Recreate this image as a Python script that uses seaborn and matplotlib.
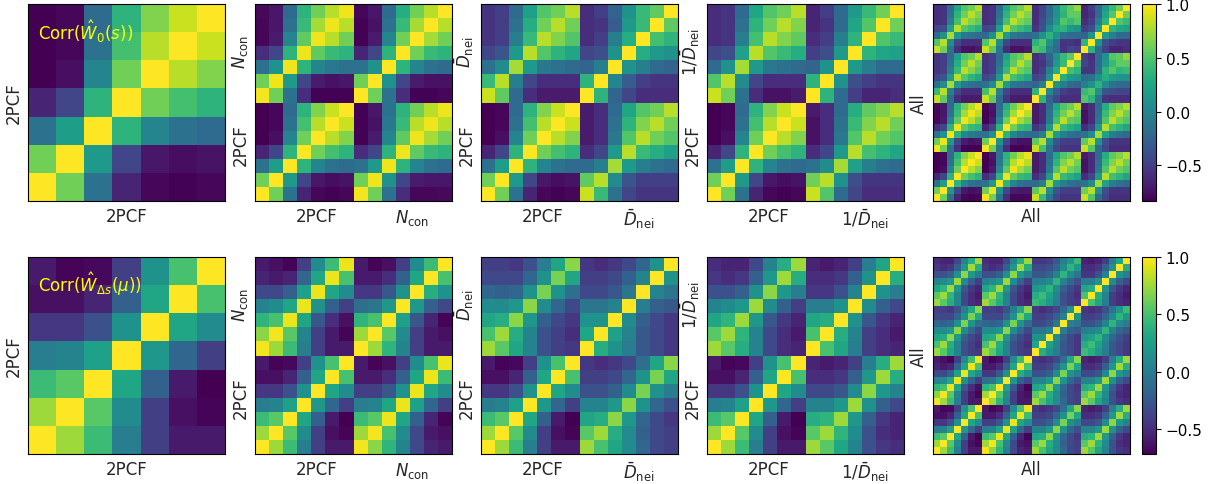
import numpy as np
import matplotlib
matplotlib.use("Agg")
import matplotlib.pyplot as plt
import seaborn as sns

sns.set_theme(style="white")
plt.rcParams["font.family"] = ["DejaVu Sans"]
plt.rcParams["mathtext.fontset"] = "dejavusans"

# Correlation blocks between the 7 bins of each statistic.
# Row i / column j are bin indices; row 0 is drawn at the bottom.

# ---------------- multipole W_0(s) ----------------
w0_2pcf = [
    [1.00, 0.60, -0.15, -0.65, -0.80, -0.82, -0.80],
    [0.60, 1.00, 0.15, -0.45, -0.72, -0.77, -0.74],
    [-0.15, 0.18, 1.00, 0.35, 0.00, -0.15, -0.20],
    [-0.65, -0.45, 0.35, 1.00, 0.60, 0.45, 0.35],
    [-0.83, -0.76, 0.00, 0.60, 1.00, 0.80, 0.65],
    [-0.83, -0.80, -0.15, 0.45, 0.80, 1.00, 0.85],
    [-0.83, -0.80, -0.20, 0.35, 0.65, 0.85, 1.00],
]
w0_ncon = [
    [1.00, 0.60, -0.15, -0.60, -0.82, -0.82, -0.80],
    [0.60, 1.00, 0.10, -0.45, -0.70, -0.75, -0.75],
    [-0.15, 0.10, 1.00, 0.35, 0.00, -0.15, -0.20],
    [-0.65, -0.45, 0.35, 1.00, 0.60, 0.40, 0.35],
    [-0.82, -0.70, 0.00, 0.60, 1.00, 0.75, 0.60],
    [-0.82, -0.75, -0.15, 0.40, 0.75, 1.00, 0.80],
    [-0.80, -0.72, -0.20, 0.30, 0.60, 0.80, 1.00],
]
w0_dnei = [
    [1.00, 0.35, -0.25, -0.45, -0.60, -0.60, -0.60],
    [0.35, 1.00, 0.00, -0.30, -0.50, -0.55, -0.55],
    [-0.25, -0.05, 1.00, 0.10, -0.05, -0.20, -0.25],
    [-0.45, -0.40, 0.10, 1.00, 0.30, 0.15, 0.10],
    [-0.60, -0.50, -0.05, 0.30, 1.00, 0.45, 0.35],
    [-0.60, -0.55, -0.30, 0.15, 0.40, 1.00, 0.55],
    [-0.60, -0.50, -0.25, 0.10, 0.40, 0.55, 1.00],
]
w0_inv_dnei = [
    [1.00, 0.35, -0.20, -0.50, -0.65, -0.65, -0.60],
    [0.35, 1.00, 0.10, -0.40, -0.50, -0.55, -0.55],
    [-0.25, 0.10, 1.00, 0.15, -0.05, -0.20, -0.20],
    [-0.50, -0.40, 0.15, 1.00, 0.35, 0.25, 0.20],
    [-0.60, -0.50, -0.05, 0.35, 1.00, 0.50, 0.40],
    [-0.65, -0.55, -0.20, 0.25, 0.50, 1.00, 0.60],
    [-0.65, -0.50, -0.20, 0.15, 0.40, 0.60, 1.00],
]
w0_2pcf_ncon = [
    [0.97, 0.60, -0.15, -0.60, -0.80, -0.80, -0.78],
    [0.60, 0.95, 0.10, -0.45, -0.70, -0.72, -0.72],
    [-0.15, 0.15, 0.95, 0.35, 0.00, -0.15, -0.20],
    [-0.60, -0.45, 0.35, 0.95, 0.55, 0.40, 0.35],
    [-0.82, -0.70, 0.00, 0.55, 0.95, 0.75, 0.60],
    [-0.82, -0.75, -0.10, 0.40, 0.80, 0.95, 0.80],
    [-0.82, -0.72, -0.15, 0.35, 0.60, 0.80, 0.95],
]
w0_2pcf_dnei = [
    [0.85, 0.40, -0.15, -0.45, -0.55, -0.55, -0.55],
    [0.55, 0.80, 0.05, -0.35, -0.50, -0.50, -0.50],
    [-0.20, -0.05, 0.75, 0.15, -0.05, -0.15, -0.20],
    [-0.60, -0.45, 0.15, 0.80, 0.40, 0.30, 0.20],
    [-0.70, -0.60, -0.10, 0.50, 0.80, 0.60, 0.50],
    [-0.70, -0.60, -0.15, 0.35, 0.65, 0.80, 0.60],
    [-0.70, -0.60, -0.20, 0.25, 0.50, 0.60, 0.80],
]
w0_2pcf_inv_dnei = [
    [0.85, 0.50, -0.20, -0.45, -0.60, -0.60, -0.60],
    [0.60, 0.80, 0.10, -0.40, -0.55, -0.55, -0.55],
    [-0.15, 0.05, 0.75, 0.20, -0.05, -0.15, -0.20],
    [-0.60, -0.45, 0.15, 0.80, 0.45, 0.35, 0.25],
    [-0.75, -0.60, -0.10, 0.50, 0.80, 0.60, 0.50],
    [-0.75, -0.60, -0.15, 0.40, 0.65, 0.80, 0.60],
    [-0.70, -0.60, -0.20, 0.30, 0.55, 0.65, 0.80],
]
w0_ncon_dnei = [
    [0.85, 0.45, -0.15, -0.45, -0.55, -0.55, -0.55],
    [0.55, 0.80, 0.05, -0.35, -0.50, -0.50, -0.50],
    [-0.20, -0.05, 0.75, 0.15, -0.05, -0.15, -0.20],
    [-0.55, -0.45, 0.15, 0.80, 0.40, 0.30, 0.20],
    [-0.70, -0.60, -0.10, 0.45, 0.80, 0.55, 0.50],
    [-0.70, -0.60, -0.15, 0.35, 0.60, 0.80, 0.60],
    [-0.70, -0.60, -0.20, 0.25, 0.50, 0.60, 0.80],
]
w0_ncon_inv_dnei = [
    [0.85, 0.50, -0.20, -0.45, -0.60, -0.60, -0.60],
    [0.55, 0.80, 0.10, -0.40, -0.55, -0.55, -0.55],
    [-0.15, 0.05, 0.75, 0.20, -0.05, -0.15, -0.20],
    [-0.60, -0.45, 0.15, 0.80, 0.45, 0.35, 0.25],
    [-0.75, -0.60, -0.10, 0.50, 0.80, 0.60, 0.50],
    [-0.75, -0.60, -0.15, 0.40, 0.65, 0.80, 0.60],
    [-0.70, -0.60, -0.20, 0.30, 0.55, 0.65, 0.80],
]
w0_dnei_inv_dnei = [
    [0.50, 0.35, -0.15, -0.55, -0.60, -0.60, -0.60],
    [0.40, 0.50, 0.10, -0.35, -0.40, -0.45, -0.45],
    [-0.05, 0.10, 0.35, 0.05, -0.15, -0.20, -0.20],
    [-0.20, -0.15, 0.10, 0.30, 0.15, 0.10, 0.10],
    [-0.55, -0.55, -0.15, 0.35, 0.50, 0.35, 0.40],
    [-0.45, -0.55, -0.20, 0.15, 0.40, 0.55, 0.55],
    [-0.50, -0.60, -0.20, 0.10, 0.50, 0.55, 0.70],
]

# ---------------- wedge W_Δs(μ) ----------------
wmu_2pcf = [
    [1.00, 0.75, 0.45, 0.00, -0.40, -0.60, -0.60],
    [0.75, 1.00, 0.55, 0.10, -0.40, -0.65, -0.70],
    [0.45, 0.55, 1.00, 0.30, -0.20, -0.60, -0.72],
    [0.00, 0.05, 0.25, 1.00, 0.20, -0.15, -0.40],
    [-0.45, -0.45, -0.30, 0.15, 1.00, 0.30, 0.10],
    [-0.65, -0.65, -0.55, -0.20, 0.30, 1.00, 0.50],
    [-0.60, -0.70, -0.68, -0.40, 0.15, 0.50, 1.00],
]
wmu_ncon = [
    [1.00, 0.75, 0.40, 0.05, -0.40, -0.60, -0.60],
    [0.75, 1.00, 0.55, 0.10, -0.40, -0.60, -0.65],
    [0.40, 0.50, 1.00, 0.25, -0.25, -0.55, -0.70],
    [-0.10, -0.05, 0.20, 1.00, 0.20, -0.20, -0.35],
    [-0.45, -0.45, -0.25, 0.15, 1.00, 0.35, 0.15],
    [-0.60, -0.60, -0.50, -0.20, 0.30, 1.00, 0.50],
    [-0.60, -0.70, -0.65, -0.40, 0.10, 0.45, 1.00],
]
wmu_dnei = [
    [1.00, 0.35, 0.15, 0.00, -0.25, -0.35, -0.45],
    [0.30, 1.00, 0.25, 0.05, -0.25, -0.35, -0.45],
    [0.15, 0.15, 1.00, 0.10, -0.20, -0.35, -0.45],
    [-0.05, -0.05, 0.05, 1.00, 0.00, -0.20, -0.25],
    [-0.35, -0.35, -0.25, -0.05, 1.00, 0.05, -0.05],
    [-0.40, -0.40, -0.35, -0.20, 0.05, 1.00, 0.15],
    [-0.45, -0.50, -0.45, -0.35, -0.15, 0.15, 1.00],
]
wmu_inv_dnei = [
    [1.00, 0.50, 0.30, 0.00, -0.40, -0.50, -0.55],
    [0.50, 1.00, 0.35, 0.05, -0.40, -0.50, -0.60],
    [0.30, 0.35, 1.00, 0.15, -0.25, -0.45, -0.55],
    [0.00, 0.00, 0.15, 1.00, 0.10, -0.20, -0.35],
    [-0.45, -0.45, -0.30, 0.05, 1.00, 0.15, 0.00],
    [-0.50, -0.50, -0.45, -0.20, 0.15, 1.00, 0.35],
    [-0.55, -0.60, -0.55, -0.40, 0.00, 0.30, 1.00],
]
wmu_2pcf_ncon = [
    [0.97, 0.70, 0.40, 0.05, -0.35, -0.55, -0.60],
    [0.75, 0.97, 0.50, 0.10, -0.35, -0.60, -0.65],
    [0.45, 0.55, 0.95, 0.30, -0.20, -0.55, -0.70],
    [0.00, 0.05, 0.30, 0.95, 0.25, -0.15, -0.40],
    [-0.40, -0.40, -0.25, 0.15, 0.95, 0.30, 0.10],
    [-0.60, -0.60, -0.50, -0.20, 0.30, 0.95, 0.45],
    [-0.60, -0.70, -0.65, -0.40, 0.10, 0.50, 0.95],
]
wmu_2pcf_dnei = [
    [0.75, 0.50, 0.30, 0.10, -0.15, -0.35, -0.40],
    [0.55, 0.75, 0.35, 0.10, -0.20, -0.35, -0.40],
    [0.30, 0.35, 0.70, 0.20, -0.15, -0.35, -0.45],
    [0.05, 0.05, 0.20, 0.70, 0.15, -0.15, -0.30],
    [-0.30, -0.30, -0.20, 0.10, 0.65, 0.15, 0.00],
    [-0.40, -0.40, -0.35, -0.15, 0.15, 0.65, 0.30],
    [-0.45, -0.50, -0.45, -0.35, -0.10, 0.30, 0.70],
]
wmu_2pcf_inv_dnei = [
    [0.75, 0.55, 0.30, 0.05, -0.30, -0.45, -0.50],
    [0.55, 0.75, 0.40, 0.10, -0.30, -0.50, -0.55],
    [0.35, 0.40, 0.75, 0.20, -0.20, -0.45, -0.55],
    [0.05, 0.05, 0.20, 0.75, 0.15, -0.20, -0.35],
    [-0.35, -0.35, -0.25, 0.10, 0.70, 0.20, 0.05],
    [-0.50, -0.50, -0.45, -0.20, 0.20, 0.75, 0.35],
    [-0.55, -0.60, -0.55, -0.40, 0.00, 0.35, 0.75],
]
wmu_ncon_dnei = [
    [0.75, 0.50, 0.30, 0.10, -0.15, -0.35, -0.40],
    [0.55, 0.75, 0.35, 0.10, -0.20, -0.35, -0.40],
    [0.30, 0.35, 0.70, 0.20, -0.15, -0.35, -0.45],
    [0.05, 0.05, 0.20, 0.70, 0.15, -0.15, -0.30],
    [-0.30, -0.30, -0.20, 0.10, 0.65, 0.15, 0.00],
    [-0.40, -0.40, -0.35, -0.15, 0.15, 0.65, 0.30],
    [-0.45, -0.50, -0.45, -0.35, -0.10, 0.30, 0.70],
]
wmu_ncon_inv_dnei = [
    [0.75, 0.55, 0.30, 0.05, -0.30, -0.45, -0.50],
    [0.55, 0.75, 0.40, 0.10, -0.30, -0.50, -0.55],
    [0.35, 0.40, 0.75, 0.20, -0.20, -0.45, -0.55],
    [0.05, 0.05, 0.20, 0.75, 0.15, -0.20, -0.35],
    [-0.35, -0.35, -0.25, 0.10, 0.70, 0.20, 0.05],
    [-0.50, -0.50, -0.45, -0.20, 0.20, 0.75, 0.35],
    [-0.55, -0.60, -0.55, -0.40, 0.00, 0.35, 0.75],
]
wmu_dnei_inv_dnei = [
    [0.45, 0.35, 0.20, 0.00, -0.25, -0.35, -0.45],
    [0.35, 0.45, 0.25, 0.05, -0.25, -0.35, -0.45],
    [0.20, 0.25, 0.40, 0.10, -0.15, -0.30, -0.40],
    [0.00, 0.05, 0.10, 0.40, 0.05, -0.15, -0.25],
    [-0.30, -0.30, -0.20, 0.05, 0.40, 0.10, 0.00],
    [-0.40, -0.40, -0.35, -0.15, 0.10, 0.40, 0.20],
    [-0.45, -0.50, -0.45, -0.30, -0.05, 0.20, 0.45],
]

stat_labels = ["2PCF", r"$N_{\rm con}$", r"$\bar{D}_{\rm nei}$", r"$1/\bar{D}_{\rm nei}$"]

rows = [
    {
        "title": r"Corr($\hat{W}_0(s)$)",
        "self": [w0_2pcf, w0_ncon, w0_dnei, w0_inv_dnei],
        "cross": {
            (0, 1): w0_2pcf_ncon, (0, 2): w0_2pcf_dnei, (0, 3): w0_2pcf_inv_dnei,
            (1, 2): w0_ncon_dnei, (1, 3): w0_ncon_inv_dnei, (2, 3): w0_dnei_inv_dnei,
        },
    },
    {
        "title": r"Corr($\hat{W}_{\Delta s}(\mu)$)",
        "self": [wmu_2pcf, wmu_ncon, wmu_dnei, wmu_inv_dnei],
        "cross": {
            (0, 1): wmu_2pcf_ncon, (0, 2): wmu_2pcf_dnei, (0, 3): wmu_2pcf_inv_dnei,
            (1, 2): wmu_ncon_dnei, (1, 3): wmu_ncon_inv_dnei, (2, 3): wmu_dnei_inv_dnei,
        },
    },
]


def joint_matrix(selfs, cross, stats):
    """Stack the per-statistic blocks into one correlation matrix."""
    blocks = []
    for a in stats:
        line = []
        for b in stats:
            if a == b:
                line.append(np.asarray(selfs[a]))
            elif a < b:
                line.append(np.asarray(cross[(a, b)]))
            else:
                line.append(np.asarray(cross[(b, a)]).T)
        blocks.append(line)
    return np.block(blocks)


fig = plt.figure(figsize=(12.19, 4.85), dpi=100)
W, H = 1219, 485
lefts_px = [28, 255, 481, 707, 933]
tops_px = [5, 258]
size_px = 197
cbar_left_px, cbar_w_px = 1142, 14

label_fs = 12

for r, row in enumerate(rows):
    full = joint_matrix(row["self"], row["cross"], [0, 1, 2, 3])
    vmin, vmax = full.min(), 1.0
    bottom = 1 - (tops_px[r] + size_px) / H
    cax = fig.add_axes([cbar_left_px / W, bottom, cbar_w_px / W, size_px / H])
    for k in range(5):
        ax = fig.add_axes([lefts_px[k] / W, bottom, size_px / W, size_px / H])
        if k == 0:
            mat = np.asarray(row["self"][0])
        elif k < 4:
            mat = joint_matrix(row["self"], row["cross"], [0, k])
        else:
            mat = full
        sns.heatmap(mat, ax=ax, cmap="viridis", vmin=vmin, vmax=vmax,
                    cbar=(k == 4), cbar_ax=cax if k == 4 else None,
                    xticklabels=False, yticklabels=False, square=True)
        ax.invert_yaxis()
        for sp in ax.spines.values():
            sp.set_visible(True)
            sp.set_color("black")
            sp.set_linewidth(0.8)
        ax.tick_params(left=False, bottom=False)

        if k == 0:
            ax.set_xlabel("2PCF", fontsize=label_fs, labelpad=4)
            ax.set_ylabel("2PCF", fontsize=label_fs, labelpad=4)
            ax.text(0.05, 0.865, row["title"], transform=ax.transAxes,
                    color="yellow", fontsize=12, ha="left", va="center")
        elif k < 4:
            ax.text(0.315, -0.03, "2PCF", transform=ax.transAxes,
                    fontsize=label_fs, ha="center", va="top")
            ax.text(0.80, -0.03, stat_labels[k], transform=ax.transAxes,
                    fontsize=label_fs, ha="center", va="top")
            ax.text(-0.025, 0.29, "2PCF", transform=ax.transAxes, rotation=90,
                    fontsize=label_fs, ha="right", va="center")
            ax.text(-0.025, 0.76, stat_labels[k], transform=ax.transAxes, rotation=90,
                    fontsize=label_fs, ha="right", va="center")
        else:
            ax.set_xlabel("All", fontsize=label_fs, labelpad=4)
            ax.set_ylabel("All", fontsize=label_fs, labelpad=4)
            cbar = ax.collections[0].colorbar
            cbar.set_ticks([-0.5, 0.0, 0.5, 1.0])
            cbar.outline.set_visible(True)
            cbar.outline.set_edgecolor("black")
            cbar.outline.set_linewidth(0.8)

    cax.tick_params(labelsize=11, length=3.5, width=0.8, right=True, colors="black")
    cax.yaxis.set_ticks_position("right")

fig.savefig("out.png", dpi=100)
